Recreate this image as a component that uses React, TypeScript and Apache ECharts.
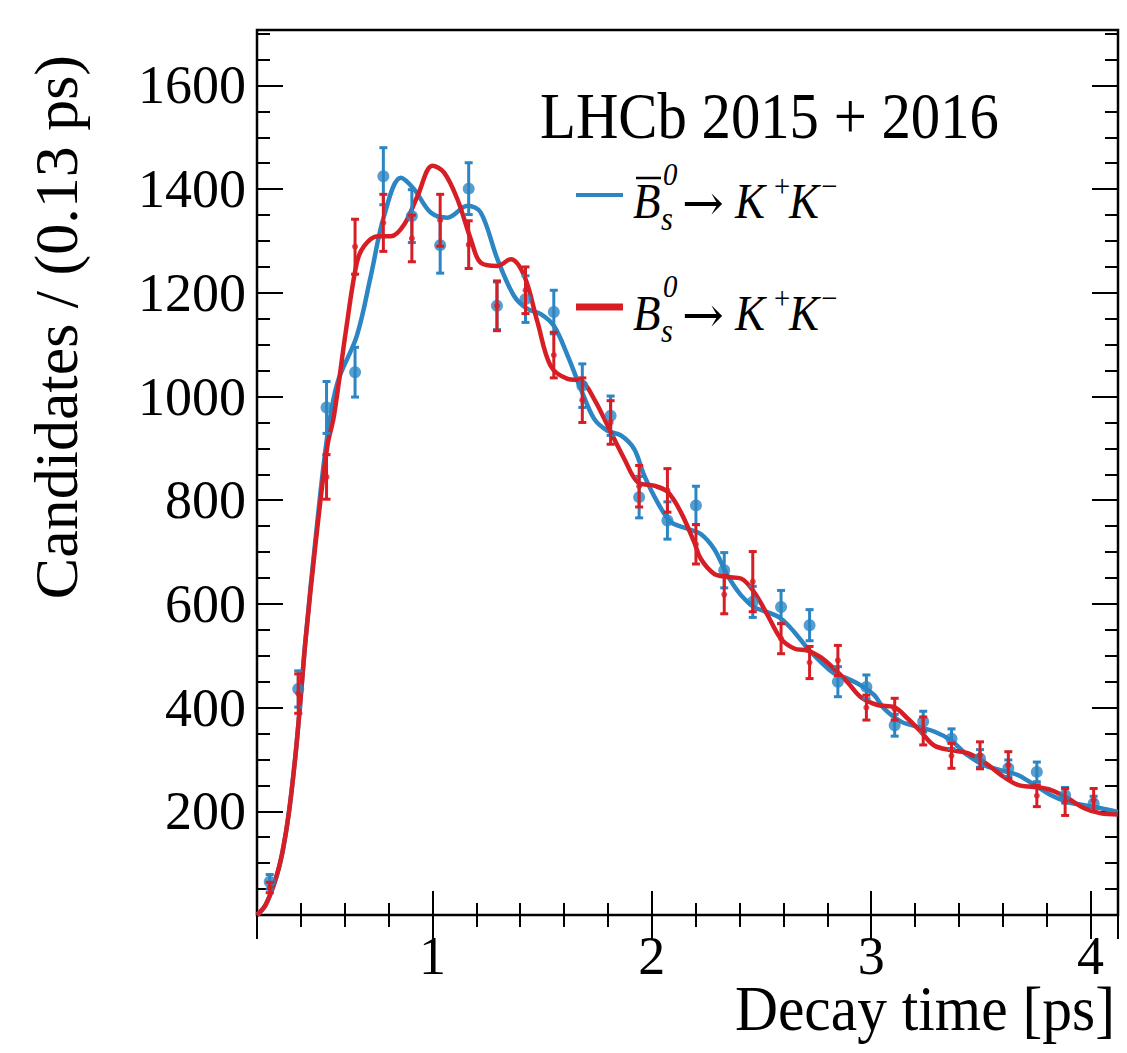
import React, { useEffect, useRef } from "react";
import * as echarts from "echarts";

// ---- data ----
const binCenters = [0.258, 0.388, 0.517, 0.647, 0.776, 0.906, 1.035, 1.165, 1.294, 1.424, 1.553, 1.683, 1.812, 1.942, 2.071, 2.201, 2.33, 2.46, 2.589, 2.719, 2.848, 2.978, 3.107, 3.237, 3.366, 3.496, 3.625, 3.755, 3.884, 4.014];

const blueCounts = [64, 436, 979, 1047, 1425, 1348, 1292, 1401, 1175, 1188, 1163, 1021, 963, 806, 761, 790, 665, 604, 594, 559, 450, 440, 366, 373, 340, 302, 283, 276, 231, 215];
const blueErrors = [14, 35, 50, 48, 55, 51, 54, 50, 46, 45, 42, 42, 38, 40, 36, 37, 34, 30, 32, 30, 29, 23, 21, 20, 19, 17, 16, 19, 15, 14];

const redCounts = [53, 427, 845, 1289, 1335, 1305, 1340, 1293, 1175, 1205, 1080, 993, 950, 827, 819, 715, 618, 643, 533, 487, 491, 400, 397, 355, 307, 308, 289, 230, 218, 222];
const redErrors = [10, 38, 43, 53, 55, 45, 50, 46, 48, 45, 44, 43, 42, 40, 42, 38, 37, 58, 29, 31, 29, 24, 21, 27, 24, 26, 26, 21, 26, 22];

const blueCurveT = [0.2, 0.24, 0.286, 0.316, 0.346, 0.377, 0.4, 0.422, 0.468, 0.521, 0.567, 0.655, 0.719, 0.779, 0.856, 0.916, 0.992, 1.068, 1.16, 1.22, 1.296, 1.372, 1.433, 1.494, 1.554, 1.616, 1.676, 1.737, 1.798, 1.859, 1.919, 1.965, 2.026, 2.087, 2.163, 2.223, 2.284, 2.345, 2.406, 2.466, 2.528, 2.588, 2.649, 2.71, 2.771, 2.831, 2.892, 2.953, 3.014, 3.059, 3.136, 3.212, 3.287, 3.363, 3.44, 3.515, 3.592, 3.668, 3.743, 3.82, 3.896, 3.971, 4.047, 4.124];
const blueCurveN = [0, 20, 70, 120, 200, 315, 425, 535, 730, 925, 1027, 1117, 1233, 1348, 1422, 1400, 1355, 1345, 1368, 1355, 1265, 1194, 1169, 1159, 1136, 1079, 1015, 957, 934, 925, 899, 848, 796, 758, 745, 735, 706, 655, 617, 594, 584, 572, 546, 514, 488, 466, 456, 443, 424, 398, 373, 363, 354, 337, 308, 289, 279, 270, 251, 231, 218, 212, 206, 199];

const redCurveT = [0.2, 0.24, 0.286, 0.316, 0.346, 0.377, 0.4, 0.422, 0.468, 0.521, 0.551, 0.605, 0.655, 0.688, 0.749, 0.81, 0.871, 0.932, 1.0, 1.053, 1.114, 1.175, 1.22, 1.296, 1.357, 1.418, 1.479, 1.539, 1.616, 1.676, 1.737, 1.813, 1.874, 1.935, 2.01, 2.072, 2.132, 2.193, 2.223, 2.284, 2.345, 2.406, 2.466, 2.528, 2.588, 2.649, 2.71, 2.771, 2.831, 2.892, 2.953, 3.029, 3.105, 3.166, 3.227, 3.287, 3.363, 3.44, 3.515, 3.592, 3.668, 3.743, 3.82, 3.896, 3.971, 4.047, 4.124];
const redCurveN = [0, 20, 71, 122, 199, 315, 424, 533, 720, 905, 963, 1126, 1258, 1290, 1309, 1309, 1332, 1387, 1445, 1432, 1380, 1303, 1258, 1252, 1265, 1233, 1143, 1059, 1034, 1031, 995, 931, 880, 835, 828, 816, 777, 719, 687, 658, 652, 649, 623, 578, 533, 514, 510, 497, 475, 449, 420, 405, 401, 379, 353, 327, 318, 312, 295, 270, 251, 247, 241, 225, 206, 196, 194];

const xTickLabels = ["1", "2", "3", "4"];
const yTickLabels = ["200", "400", "600", "800", "1000", "1200", "1400", "1600"];

const BLUE = "#2b86c3";
const RED = "#d81e25";
const FONT = "'Liberation Serif', 'DejaVu Serif', 'Times New Roman', serif";
const ARROW_FONT = "'DejaVu Serif', 'Liberation Serif', serif";

export default function App() {
  const ref = useRef<HTMLDivElement>(null);

  useEffect(() => {
    document.body.style.margin = "0";
    const chart = echarts.init(ref.current as HTMLDivElement, null, { renderer: "svg" });

    const errRender = (color: string, cap: number, width: number) => (params: any, api: any) => {
      const x = api.value(0);
      const lo = api.coord([x, api.value(1)]);
      const hi = api.coord([x, api.value(2)]);
      const st = { stroke: color, lineWidth: width };
      return {
        type: "group",
        children: [
          { type: "line", shape: { x1: lo[0], y1: lo[1], x2: hi[0], y2: hi[1] }, style: st },
          { type: "line", shape: { x1: lo[0] - cap, y1: lo[1], x2: lo[0] + cap, y2: lo[1] }, style: st },
          { type: "line", shape: { x1: hi[0] - cap, y1: hi[1], x2: hi[0] + cap, y2: hi[1] }, style: st },
        ],
      };
    };

    const tickStyle = { color: "#000", width: 2 };
    const xBase = { type: "value", min: 0.2, max: 4.125, splitLine: { show: false }, axisLine: { show: false } };
    const yBase = { type: "value", min: 0, max: 1707, splitLine: { show: false }, axisLine: { show: false } };

    const xLabel = {
      margin: 14, fontSize: 54, fontFamily: FONT, color: "#000",
      formatter: (v: number) => (xTickLabels.includes(String(v)) ? String(v) : ""),
    };
    const yLabel = {
      margin: 11, fontSize: 54, fontFamily: FONT, color: "#000",
      formatter: (v: number) => (yTickLabels.includes(String(v)) ? String(v) : ""),
    };

    const legendRow = (dy: number, withBar: boolean) => {
      const it = { fontStyle: "italic", fontFamily: FONT, fill: "#000" };
      const items: any[] = [
        { type: "text", x: 633, y: 201 + dy, scaleX: 0.9, style: { ...it, text: "B", fontSize: 50, align: "left", verticalAlign: "middle" } },
        { type: "text", x: 661, y: 218 + dy, scaleX: 0.9, style: { ...it, text: "s", fontSize: 34, align: "left", verticalAlign: "middle" } },
        { type: "text", x: 663, y: 174 + dy, scaleX: 0.9, style: { ...it, text: "0", fontSize: 32, align: "left", verticalAlign: "middle" } },
        { type: "text", x: 682, y: 203 + dy, style: { fontFamily: ARROW_FONT, fill: "#000", text: "→", fontSize: 50, align: "left", verticalAlign: "middle" } },
        { type: "text", x: 735, y: 201 + dy, scaleX: 0.9, style: { ...it, text: "K", fontSize: 50, align: "left", verticalAlign: "middle" } },
        { type: "text", x: 774, y: 186 + dy, scaleX: 0.9, style: { fontFamily: FONT, fill: "#000", text: "+", fontSize: 32, align: "left", verticalAlign: "middle" } },
        { type: "text", x: 789, y: 201 + dy, scaleX: 0.9, style: { ...it, text: "K", fontSize: 50, align: "left", verticalAlign: "middle" } },
        { type: "text", x: 821, y: 186 + dy, scaleX: 0.9, style: { fontFamily: FONT, fill: "#000", text: "−", fontSize: 32, align: "left", verticalAlign: "middle" } },
      ];
      if (withBar) {
        items.push({ type: "line", shape: { x1: 636, y1: 178 + dy, x2: 661, y2: 178 + dy }, style: { stroke: "#000", lineWidth: 2.5 } });
      }
      return items;
    };

    chart.setOption({
      animation: false,
      grid: { left: 257, top: 30, width: 861, height: 885, show: true, borderColor: "#000", borderWidth: 2.5, backgroundColor: "transparent" },
      xAxis: [
        { ...xBase, position: "bottom", splitNumber: 4, axisTick: { inside: true, length: 24, lineStyle: tickStyle }, axisLabel: xLabel },
        { ...xBase, position: "bottom", interval: 0.2, axisTick: { inside: true, length: 12, lineStyle: tickStyle }, axisLabel: { show: false } },
        { ...xBase, position: "top", splitNumber: 4, axisTick: { inside: true, length: 24, lineStyle: tickStyle }, axisLabel: { show: false } },
        { ...xBase, position: "top", interval: 0.2, axisTick: { inside: true, length: 12, lineStyle: tickStyle }, axisLabel: { show: false } },
      ],
      yAxis: [
        { ...yBase, position: "left", interval: 200, axisTick: { inside: true, length: 26, lineStyle: tickStyle }, axisLabel: yLabel },
        { ...yBase, position: "left", interval: 50, axisTick: { inside: true, length: 13, lineStyle: tickStyle }, axisLabel: { show: false } },
        { ...yBase, position: "right", interval: 200, axisTick: { inside: true, length: 26, lineStyle: tickStyle }, axisLabel: { show: false } },
        { ...yBase, position: "right", interval: 50, axisTick: { inside: true, length: 13, lineStyle: tickStyle }, axisLabel: { show: false } },
      ],
      series: [
        {
          name: "Bsbar curve", type: "line", smooth: 0.35, showSymbol: false, xAxisIndex: 0, yAxisIndex: 0,
          lineStyle: { color: BLUE, width: 4.5 }, data: blueCurveT.map((t, i) => [t, blueCurveN[i]]), z: 2,
        },
        {
          name: "Bs curve", type: "line", smooth: 0.35, showSymbol: false, xAxisIndex: 0, yAxisIndex: 0,
          lineStyle: { color: RED, width: 4.5 }, data: redCurveT.map((t, i) => [t, redCurveN[i]]), z: 3,
        },
        {
          name: "Bsbar errors", type: "custom", xAxisIndex: 0, yAxisIndex: 0, renderItem: errRender(BLUE, 4, 3),
          encode: { x: 0, y: [1, 2] }, data: binCenters.map((t, i) => [t, blueCounts[i] - blueErrors[i], blueCounts[i] + blueErrors[i]]), z: 4,
        },
        {
          name: "Bsbar data", type: "scatter", xAxisIndex: 0, yAxisIndex: 0, symbol: "circle", symbolSize: 12,
          itemStyle: { color: BLUE }, data: binCenters.map((t, i) => [t, blueCounts[i]]), z: 5,
        },
        {
          name: "Bs errors", type: "custom", xAxisIndex: 0, yAxisIndex: 0, renderItem: errRender(RED, 4, 3),
          encode: { x: 0, y: [1, 2] }, data: binCenters.map((t, i) => [t, redCounts[i] - redErrors[i], redCounts[i] + redErrors[i]]), z: 6,
        },
        {
          name: "Bs data", type: "scatter", xAxisIndex: 0, yAxisIndex: 0, symbol: "circle", symbolSize: 6,
          itemStyle: { color: RED }, data: binCenters.map((t, i) => [t, redCounts[i]]), z: 7,
        },
      ],
      graphic: [
        { type: "text", x: 540, y: 116, scaleX: 0.89, style: { text: "LHCb 2015 + 2016", fontSize: 66, fontFamily: FONT, fill: "#000", align: "left", verticalAlign: "middle" } },
        { type: "line", shape: { x1: 576, y1: 195, x2: 623, y2: 195 }, style: { stroke: BLUE, lineWidth: 4 } },
        { type: "line", shape: { x1: 576, y1: 307, x2: 623, y2: 307 }, style: { stroke: RED, lineWidth: 7 } },
        ...legendRow(0, true),
        ...legendRow(112, false),
        { type: "text", x: 1115, y: 1008, scaleX: 0.93, style: { text: "Decay time [ps]", fontSize: 64, fontFamily: FONT, fill: "#000", align: "right", verticalAlign: "middle" } },
        { type: "text", x: 56, y: 55, rotation: Math.PI / 2, style: { text: "Candidates / (0.13 ps)", fontSize: 62, fontFamily: FONT, fill: "#000", align: "right", verticalAlign: "middle" } },
      ],
    });

    return () => chart.dispose();
  }, []);

  return <div ref={ref} style={{ width: 1127, height: 1053 }} />;
}
